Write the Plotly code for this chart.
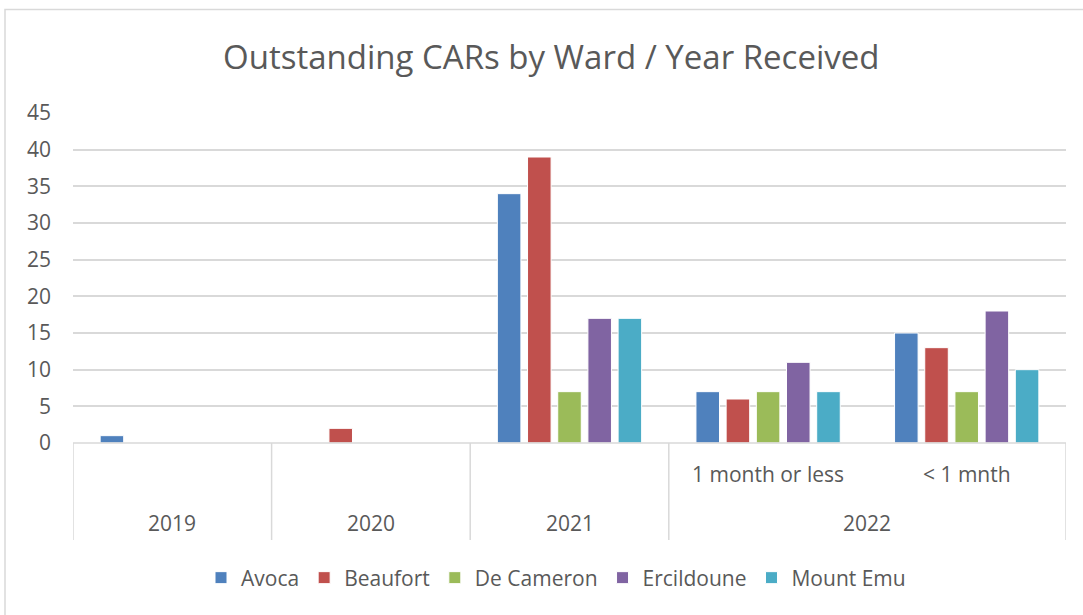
import plotly.graph_objects as go

categories = ["2019", "2020", "2021", "2022a", "2022b"]
sub_labels = ["", "", "", "1 month or less", "< 1 mnth"]
group_labels = ["2019", "2020", "2021", "2022"]
series_names = ["Avoca", "Beaufort", "De Cameron", "Ercildoune", "Mount Emu"]
series_values = [
    [1, 0, 34, 7, 15],
    [0, 2, 39, 6, 13],
    [0, 0, 7, 7, 7],
    [0, 0, 17, 11, 18],
    [0, 0, 17, 7, 10],
]
colors = ["#4F81BD", "#C0504D", "#9BBB59", "#8064A2", "#4BACC6"]
y_ticks = [0, 5, 10, 15, 20, 25, 30, 35, 40, 45]

FONT = "Open Sans"
GRAY = "#595959"
LINE = "#D9D9D9"

fig = go.Figure()
for name, vals, col in zip(series_names, series_values, colors):
    fig.add_trace(go.Bar(
        x=categories, y=vals, name=name,
        marker=dict(color=col, line=dict(color="white", width=1)),
    ))

W, H = 1083, 615
ml, mr, mt, mb = 73, 17, 113, 172
PW = W - ml - mr
PH = H - mt - mb

fig.update_layout(
    width=W, height=H,
    margin=dict(l=ml, r=mr, t=mt, b=mb),
    paper_bgcolor="white", plot_bgcolor="white",
    barmode="group", bargap=0.24, bargroupgap=0.22,
    font=dict(family=FONT, color=GRAY, size=21),
    title=dict(text="Outstanding CARs by Ward / Year Received",
               x=0.509, xanchor="center", y=1 - 57 / H, yanchor="middle",
               font=dict(family=FONT, size=33, color=GRAY)),
    legend=dict(orientation="h", x=(556 - ml) / PW, xanchor="center", y=(443 - 578) / PH,
                yanchor="middle", font=dict(size=21, color=GRAY), itemwidth=30,
                traceorder="normal"),
    showlegend=True,
)
fig.update_xaxes(type="category", range=[-0.5, 4.5], showticklabels=False,
                 showgrid=False, zeroline=False, showline=False, ticks="")
fig.update_yaxes(range=[0, 45], tickvals=y_ticks, showgrid=True, gridcolor=LINE,
                 gridwidth=1.5, zeroline=False, showline=False, ticks="",
                 tickfont=dict(size=21, color=GRAY), ticklabelstandoff=21)

# two-level category axis drawn in axis coordinates
fig.add_shape(type="line", xref="x", yref="paper", x0=-0.5, x1=4.5, y0=0, y1=0,
              line=dict(color=LINE, width=1.5))
for xb in [-0.5, 0.5, 1.5, 2.5, 4.5]:
    fig.add_shape(type="line", xref="x", yref="paper", x0=xb, x1=xb, y0=0, y1=(443 - 540) / PH,
                  line=dict(color=LINE, width=1.5))
for i, s in enumerate(sub_labels):
    if s:
        fig.add_annotation(x=i, xref="x", y=(443 - 474) / PH, yref="paper", text=s,
                           showarrow=False, yanchor="middle", font=dict(size=21, color=GRAY))
group_pos = [0, 1, 2, 3.5]
for gx, g in zip(group_pos, group_labels):
    fig.add_annotation(x=gx, xref="x", y=(443 - 523) / PH, yref="paper", text=g,
                       showarrow=False, yanchor="middle", font=dict(size=21, color=GRAY))

# chart border
fig.add_shape(type="rect", xref="paper", yref="paper",
              x0=(5 - ml) / PW, x1=(1090 - ml) / PW,
              y0=(H - mb - 620) / PH, y1=(H - mb - 9.5) / PH,
              line=dict(color="#D9D9D9", width=1.5), layer="below")

fig.write_html("out.html", config={"displayModeBar": False},
               post_script="document.body.style.margin='0';")
